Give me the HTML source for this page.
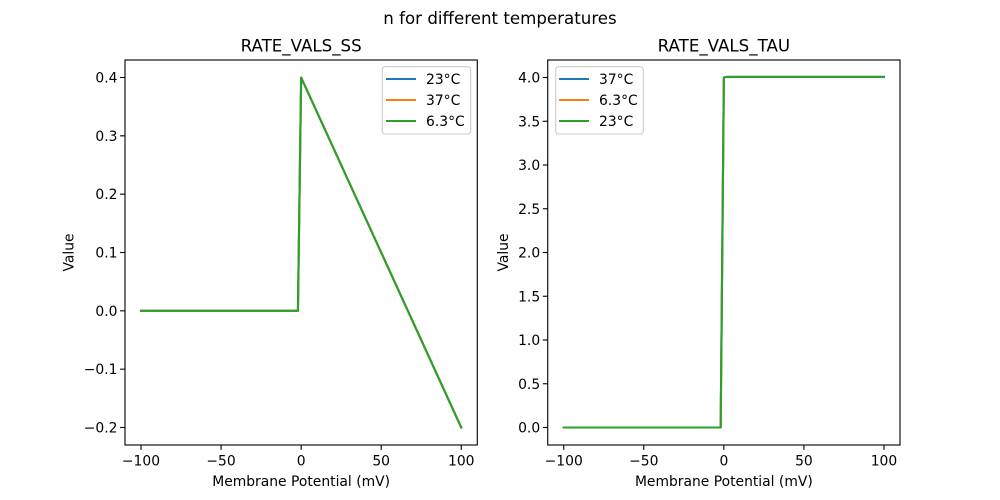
<!DOCTYPE html>
<html>
<head>
<meta charset="utf-8">
<style>
html,body{margin:0;padding:0;background:#fff;}
svg{display:block;}
text{font-family:"DejaVu Sans","Liberation Sans",sans-serif;fill:#000;}
</style>
</head>
<body>
<svg width="1000" height="500" viewBox="0 0 1000 500" xmlns="http://www.w3.org/2000/svg">
<rect x="0" y="0" width="1000" height="500" fill="#fff"/>

<!-- Suptitle -->
<text x="500" y="24" font-size="16.67" text-anchor="middle">n for different temperatures</text>

<!-- ================= LEFT AXES ================= -->
<text x="301.14" y="51.5" font-size="16.67" text-anchor="middle">RATE_VALS_SS</text>

<!-- data -->
<g fill="none" stroke-width="2.1" stroke-linejoin="round" stroke-linecap="square">
<polyline stroke="#1f77b4" points="140.99,310.83 297.93,310.83 301.14,77.5 461.26,427.5"/>
<polyline stroke="#ff7f0e" points="140.99,310.83 297.93,310.83 301.14,77.5 461.26,427.5"/>
<polyline stroke="#2ca02c" points="140.99,310.83 297.93,310.83 301.14,77.5 461.26,427.5"/>
</g>

<!-- spines -->
<rect x="125" y="60" width="352.27" height="385" fill="none" stroke="#000" stroke-width="1.11"/>

<!-- y ticks -->
<g stroke="#000" stroke-width="1.11">
<line x1="120.1" y1="427.5" x2="125" y2="427.5"/>
<line x1="120.1" y1="369.17" x2="125" y2="369.17"/>
<line x1="120.1" y1="310.83" x2="125" y2="310.83"/>
<line x1="120.1" y1="252.5" x2="125" y2="252.5"/>
<line x1="120.1" y1="194.17" x2="125" y2="194.17"/>
<line x1="120.1" y1="135.83" x2="125" y2="135.83"/>
<line x1="120.1" y1="77.5" x2="125" y2="77.5"/>
</g>
<g font-size="13.89" text-anchor="end">
<text x="117.5" y="432.5">−0.2</text>
<text x="117.5" y="374.2">−0.1</text>
<text x="117.5" y="315.8">0.0</text>
<text x="117.5" y="257.5">0.1</text>
<text x="117.5" y="199.2">0.2</text>
<text x="117.5" y="140.8">0.3</text>
<text x="117.5" y="82.5">0.4</text>
</g>

<!-- x ticks -->
<g stroke="#000" stroke-width="1.11">
<line x1="140.99" y1="445" x2="140.99" y2="449.9"/>
<line x1="221.07" y1="445" x2="221.07" y2="449.9"/>
<line x1="301.14" y1="445" x2="301.14" y2="449.9"/>
<line x1="381.2" y1="445" x2="381.2" y2="449.9"/>
<line x1="461.26" y1="445" x2="461.26" y2="449.9"/>
</g>
<g font-size="13.89" text-anchor="middle">
<text x="140.99" y="465.5">−100</text>
<text x="221.07" y="465.5">−50</text>
<text x="301.14" y="465.5">0</text>
<text x="381.2" y="465.5">50</text>
<text x="461.26" y="465.5">100</text>
</g>
<text x="301.14" y="486" font-size="13.89" text-anchor="middle">Membrane Potential (mV)</text>
<text transform="translate(73.5,252.5) rotate(-90)" font-size="13.89" text-anchor="middle">Value</text>

<!-- legend left -->
<rect x="382.3" y="66.7" width="88.4" height="67.3" rx="2.8" ry="2.8" fill="#fff" fill-opacity="0.8" stroke="#cccccc" stroke-width="1.11"/>
<g stroke-width="2.1">
<line x1="386" y1="79" x2="416" y2="79" stroke="#1f77b4"/>
<line x1="386" y1="100" x2="416" y2="100" stroke="#ff7f0e"/>
<line x1="386" y1="121" x2="416" y2="121" stroke="#2ca02c"/>
</g>
<g font-size="13.89">
<text x="426" y="84">23°C</text>
<text x="426" y="105">37°C</text>
<text x="426" y="126">6.3°C</text>
</g>

<!-- ================= RIGHT AXES ================= -->
<text x="723.86" y="51.5" font-size="16.67" text-anchor="middle">RATE_VALS_TAU</text>

<g fill="none" stroke-width="2.1" stroke-linejoin="round" stroke-linecap="square">
<polyline stroke="#1f77b4" points="563.74,427.5 720.66,427.5 723.86,77.5 727.06,76.9 883.98,76.9"/>
<polyline stroke="#ff7f0e" points="563.74,427.5 720.66,427.5 723.86,77.5 727.06,76.9 883.98,76.9"/>
<polyline stroke="#2ca02c" points="563.74,427.5 720.66,427.5 723.86,77.5 727.06,76.9 883.98,76.9"/>
</g>

<rect x="547.73" y="60" width="352.27" height="385" fill="none" stroke="#000" stroke-width="1.11"/>

<g stroke="#000" stroke-width="1.11">
<line x1="542.8" y1="427.5" x2="547.73" y2="427.5"/>
<line x1="542.8" y1="383.75" x2="547.73" y2="383.75"/>
<line x1="542.8" y1="340" x2="547.73" y2="340"/>
<line x1="542.8" y1="296.25" x2="547.73" y2="296.25"/>
<line x1="542.8" y1="252.5" x2="547.73" y2="252.5"/>
<line x1="542.8" y1="208.75" x2="547.73" y2="208.75"/>
<line x1="542.8" y1="165" x2="547.73" y2="165"/>
<line x1="542.8" y1="121.25" x2="547.73" y2="121.25"/>
<line x1="542.8" y1="77.5" x2="547.73" y2="77.5"/>
</g>
<g font-size="13.89" text-anchor="end">
<text x="540.2" y="432.5">0.0</text>
<text x="540.2" y="388.8">0.5</text>
<text x="540.2" y="345">1.0</text>
<text x="540.2" y="301.3">1.5</text>
<text x="540.2" y="257.5">2.0</text>
<text x="540.2" y="213.8">2.5</text>
<text x="540.2" y="170">3.0</text>
<text x="540.2" y="126.3">3.5</text>
<text x="540.2" y="82.5">4.0</text>
</g>

<g stroke="#000" stroke-width="1.11">
<line x1="563.74" y1="445" x2="563.74" y2="449.9"/>
<line x1="643.8" y1="445" x2="643.8" y2="449.9"/>
<line x1="723.86" y1="445" x2="723.86" y2="449.9"/>
<line x1="803.92" y1="445" x2="803.92" y2="449.9"/>
<line x1="883.98" y1="445" x2="883.98" y2="449.9"/>
</g>
<g font-size="13.89" text-anchor="middle">
<text x="563.74" y="465.5">−100</text>
<text x="643.8" y="465.5">−50</text>
<text x="723.86" y="465.5">0</text>
<text x="803.92" y="465.5">50</text>
<text x="883.98" y="465.5">100</text>
</g>
<text x="723.86" y="486" font-size="13.89" text-anchor="middle">Membrane Potential (mV)</text>
<text transform="translate(508,252.5) rotate(-90)" font-size="13.89" text-anchor="middle">Value</text>

<!-- legend right -->
<rect x="555.7" y="66.7" width="87.6" height="67.3" rx="2.8" ry="2.8" fill="#fff" fill-opacity="0.8" stroke="#cccccc" stroke-width="1.11"/>
<g stroke-width="2.1">
<line x1="559" y1="79" x2="589" y2="79" stroke="#1f77b4"/>
<line x1="559" y1="100" x2="589" y2="100" stroke="#ff7f0e"/>
<line x1="559" y1="121" x2="589" y2="121" stroke="#2ca02c"/>
</g>
<g font-size="13.89">
<text x="599" y="84">37°C</text>
<text x="599" y="105">6.3°C</text>
<text x="599" y="126">23°C</text>
</g>
</svg>
</body>
</html>
